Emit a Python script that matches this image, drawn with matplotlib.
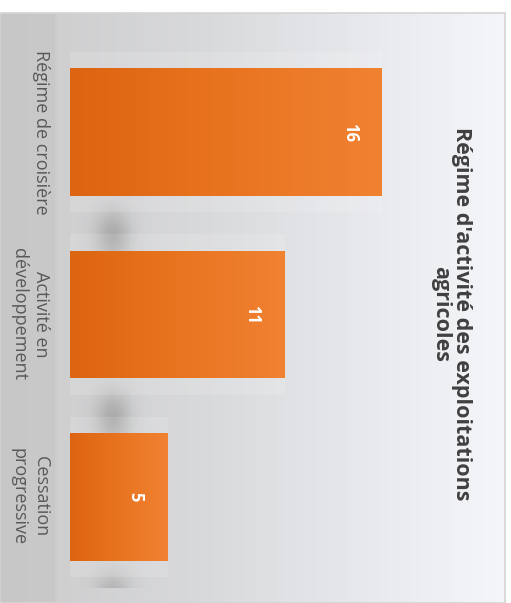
import numpy as np
import matplotlib.pyplot as plt
from matplotlib.colors import LinearSegmentedColormap, to_rgb
from matplotlib.patches import Rectangle

categories = ["Régime de croisière", "Activité en\ndéveloppement", "Cessation\nprogressive"]
values = [16, 11, 5]
title = "Régime d'activité des exploitations\nagricoles"

W, H = 511, 603
fig = plt.figure(figsize=(W / 100, H / 100), dpi=100)
fig.patch.set_facecolor("white")

# light grey panel with a left-to-right gradient
bg = fig.add_axes([0, 0, 505 / W, (H - 13) / H])
panel_cmap = LinearSegmentedColormap.from_list(
    "panel",
    [(0.0, "#c7c7c7"), (0.107, "#c9c9ca"), (0.111, "#cfcfd0"), (0.4, "#d8d9db"),
     (0.75, "#e9eaee"), (1.0, "#f4f6fa")],
)
bg.imshow(np.linspace(0, 1, 512)[None, :], cmap=panel_cmap, aspect="auto", extent=[0, 1, 0, 1])
bg.set_axis_off()
fig.patches.append(Rectangle((0, 0), 505 / W, (H - 13) / H, transform=fig.transFigure,
                             fill=False, edgecolor="#d4d4d4", lw=1.2))

# chart area: values run left to right, categories top to bottom
ax = fig.add_axes([70 / W, 1 - 588 / H, 390 / W, (588 - 41) / H])
ax.set_facecolor("none")
ax.set_axis_off()

bar_h = 0.70
ypos = np.arange(len(values))
bar_cmap = LinearSegmentedColormap.from_list("bar", ["#dd6410", "#e97420", "#f08232"])
grad = np.linspace(0, 1, 256)[None, :]

# soft grey shadows in the gaps below each bar
sx = np.linspace(-1, 1, 80)
sy = np.linspace(-1, 1, 60)
SX, SY = np.meshgrid(sx, sy)
blob = np.exp(-(SX ** 2) / 0.2 - (SY ** 2) / 0.4)
shadow = np.zeros(blob.shape + (4,))
shadow[..., :3] = to_rgb("#8a8a8a")
shadow[..., 3] = 0.55 * blob
for y in ypos:
    ax.imshow(shadow, extent=[0.2, 4.2, y + bar_h / 2 + 0.0, y + 0.5 + 0.3],
              aspect="auto", zorder=1, interpolation="bilinear")

# faint halo behind each bar
for y, v in zip(ypos, values):
    ax.add_patch(Rectangle((-0.8, y - bar_h / 2 - 0.09), v + 0.8, bar_h + 0.18,
                           facecolor="white", alpha=0.13, edgecolor="none", zorder=2))

bars = ax.barh(ypos, values, height=bar_h, color="#e8711c", zorder=3)
for bar, v, y in zip(bars, values, ypos):
    im = ax.imshow(grad, cmap=bar_cmap, aspect="auto", zorder=4,
                   extent=[0, v, y + bar_h / 2, y - bar_h / 2])
    im.set_clip_path(bar)
    ax.annotate(str(v), xy=(v, y), xytext=(-32, 0), textcoords="offset pixels",
                rotation=-90, ha="center", va="center", color="white",
                fontsize=12, fontweight="bold", family="Open Sans", zorder=5)

ax.set_xlim(0, 20)
ax.set_ylim(2.5, -0.5)

# category labels, rotated to read top to bottom
for y, cat in zip(ypos, categories):
    ax.annotate(cat, xy=(0, y), xytext=(-20, 0), textcoords="offset pixels",
                rotation=-90, ha="right", va="center", multialignment="center",
                color="#595959", fontsize=13, family="Open Sans", linespacing=1.3)

fig.text(451 / W, 1 - 314 / H, title, rotation=-90, ha="center", va="center",
         multialignment="center", color="#404040", fontsize=15.5, fontweight="bold",
         family="Open Sans", linespacing=1.0)

fig.savefig("out.png", dpi=100, facecolor="white")
